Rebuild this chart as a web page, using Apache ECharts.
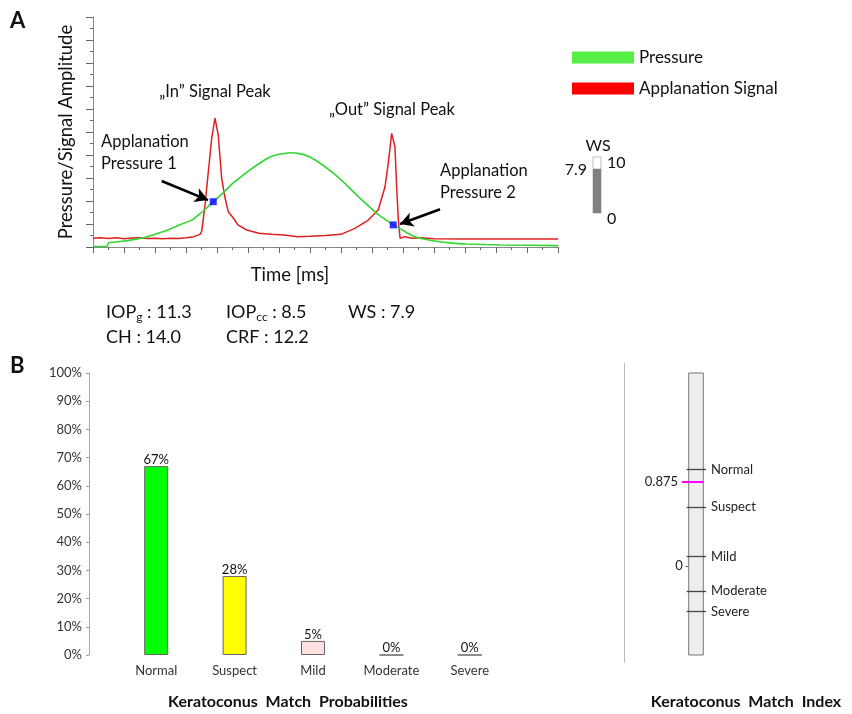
<!DOCTYPE html>
<html><head><meta charset="utf-8">
<script src="https://cdn.jsdelivr.net/npm/echarts@6/dist/echarts.min.js"></script>
<style>html,body{margin:0;padding:0;background:#fff}#c{width:852px;height:714px}</style>
</head><body><div id="c"></div>
<script>
// ---- Panel A data (time in arbitrary axis units 0..30, amplitude 0..10) ----
const pressureTime  = [0, 0.9, 1.0, 2.0, 2.7, 3.5, 4.2, 4.84, 5.6, 6.37, 7.0, 7.44, 7.76, 8.4, 9.03, 9.6, 10.13, 10.7, 11.2, 11.6, 12.0, 12.7, 13.4, 14.0, 14.7, 15.48, 16.2, 16.9, 17.5, 18.19, 18.8, 19.37, 19.8, 20.3, 20.88, 21.9, 23.0, 24.1, 26.3, 30];
const pressureValue = [0.02, 0.02, 0.18, 0.26, 0.33, 0.45, 0.6, 0.74, 0.97, 1.17, 1.5, 1.76, 1.97, 2.35, 2.78, 3.08, 3.35, 3.62, 3.84, 3.96, 4.03, 4.1, 4.05, 3.91, 3.62, 3.22, 2.8, 2.33, 1.95, 1.53, 1.22, 0.96, 0.8, 0.6, 0.42, 0.27, 0.18, 0.13, 0.09, 0.06];
const signalTime  = [0, 0.5, 1, 1.5, 2, 2.5, 3, 3.5, 4, 4.5, 5, 5.5, 6, 6.5, 6.9, 7.01, 7.23, 7.44, 7.66, 7.87, 8.08, 8.3, 8.52, 8.73, 9.05, 9.35, 9.92, 10.7, 11.5, 12.3, 13.2, 14.0, 15.0, 16.0, 16.9, 17.76, 18.4, 18.84, 19.05, 19.27, 19.48, 19.59, 19.7, 19.81, 20.13, 20.56, 21.2, 22, 24, 26, 28, 30];
const signalValue = [0.38, 0.4, 0.37, 0.4, 0.36, 0.39, 0.4, 0.37, 0.38, 0.36, 0.38, 0.37, 0.4, 0.45, 0.55, 0.67, 1.83, 3.27, 4.74, 5.6, 4.87, 3.0, 2.13, 1.53, 1.26, 0.96, 0.74, 0.6, 0.55, 0.52, 0.45, 0.47, 0.5, 0.55, 0.81, 1.17, 1.61, 2.62, 3.65, 4.94, 4.36, 2.62, 1.17, 0.38, 0.45, 0.38, 0.4, 0.36, 0.35, 0.35, 0.35, 0.35];
const applanationTime  = [7.76, 19.37];
const applanationValue = [1.97, 0.96];
const wsValue = 7.9;
const metricLabels = ['IOP{s|g} : 11.3', 'CH : 14.0', 'IOP{s|cc} : 8.5', 'CRF : 12.2', 'WS : 7.9'];

// ---- Panel B data ----
const categories = ['Normal', 'Suspect', 'Mild', 'Moderate', 'Severe'];
const probabilities = [67, 28, 5, 0, 0];
const barColors = ['#00ff00', '#ffff00', '#fde0e0', '#ffffff', '#ffffff'];
const indexNames = ['Normal', 'Suspect', 'Mild', 'Moderate', 'Severe'];
const indexLevels = [1.0, 0.61, 0.1, -0.256, -0.47];
const matchIndex = 0.875;

const F = 'Lato, "Noto Sans", sans-serif';
const zip = (a, b) => a.map((v, i) => [v, b[i]]);

const chart = echarts.init(document.getElementById('c'), null, {renderer: 'canvas'});
chart.setOption({
  animation: false,
  textStyle: {fontFamily: F},
  legend: {
    left: 567, top: 44, orient: 'vertical', icon: 'rect', itemWidth: 62, itemHeight: 12, itemGap: 14,
    textStyle: {fontSize: 17, color: '#111', fontFamily: F},
    data: [
      {name: 'Pressure', itemStyle: {color: '#55ee44'}},
      {name: 'Applanation Signal', itemStyle: {color: '#ff0000'}}
    ],
    selectedMode: false
  },
  grid: [
    {left: 93, top: 17, width: 465, height: 230},
    {left: 593, top: 157, width: 8, height: 56},
    {left: 117, top: 373, width: 392, height: 282},
    {left: 682, top: 373, width: 24, height: 282}
  ],
  xAxis: [
    {gridIndex: 0, type: 'value', min: 0, max: 30, interval: 2,
     axisLine: {lineStyle: {color: '#888'}}, axisTick: {length: 6, lineStyle: {color: '#666'}},
     minorTick: {show: true, splitNumber: 2, length: 3, lineStyle: {color: '#666'}},
     axisLabel: {show: false}, splitLine: {show: false}},
    {gridIndex: 1, type: 'category', data: [''], show: false},
    {gridIndex: 2, type: 'category', data: categories,
     axisLine: {show: false}, axisTick: {show: false},
     axisLabel: {fontSize: 13, color: '#333', margin: 9, fontFamily: F}},
    {gridIndex: 3, type: 'value', min: 0, max: 24, show: false}
  ],
  yAxis: [
    {gridIndex: 0, type: 'value', min: 0, max: 10, interval: 1,
     name: 'Pressure/Signal Amplitude', nameLocation: 'middle', nameGap: 17,
     nameTextStyle: {fontSize: 18.5, color: '#111', fontFamily: F},
     axisLine: {show: true, lineStyle: {color: '#888'}}, axisTick: {show: true, length: 7, lineStyle: {color: '#666'}},
     minorTick: {show: true, splitNumber: 2, length: 3, lineStyle: {color: '#666'}},
     axisLabel: {show: false}, splitLine: {show: false}},
    {gridIndex: 1, type: 'value', min: 0, max: 10, interval: 10, position: 'right',
     axisLine: {show: false}, axisTick: {show: false}, splitLine: {show: false},
     axisLabel: {fontSize: 16, color: '#111', margin: 6, fontFamily: F,
       formatter: '{a|{value}}', rich: {a: {fontSize: 16, padding: [12, 0, 0, 0], fontFamily: F, color: '#111'}}}},
    {gridIndex: 2, type: 'value', min: 0, max: 100, interval: 10, offset: 28,
     axisLine: {show: true, lineStyle: {color: '#aaa'}}, axisTick: {show: true, length: 3, lineStyle: {color: '#999'}},
     axisLabel: {formatter: '{value}%', fontSize: 13, color: '#333', margin: 7, fontFamily: F},
     splitLine: {show: false}},
    {gridIndex: 3, type: 'value', min: -0.92, max: 2.0, offset: -6.7,
     axisLine: {show: false},
     axisTick: {show: true, customValues: [0], length: 3, lineStyle: {color: '#555'}},
     axisLabel: {customValues: [0], fontSize: 13, color: '#222', margin: 6, fontFamily: F},
     splitLine: {show: false}}
  ],
  series: [
    {name: 'Pressure', type: 'line', xAxisIndex: 0, yAxisIndex: 0, data: zip(pressureTime, pressureValue),
     showSymbol: false, smooth: 0.2, lineStyle: {color: '#33d633', width: 1.6}, itemStyle: {color: '#33d633'}, z: 3},
    {name: 'Applanation Signal', type: 'line', xAxisIndex: 0, yAxisIndex: 0, data: zip(signalTime, signalValue),
     showSymbol: false, lineStyle: {color: '#dd2020', width: 1.5}, itemStyle: {color: '#dd2020'}, z: 2},
    {name: 'markers', type: 'scatter', xAxisIndex: 0, yAxisIndex: 0, data: zip(applanationTime, applanationValue),
     symbol: 'rect', symbolSize: 7, itemStyle: {color: '#0000ff'}, z: 5, silent: true,
     markLine: {silent: true, symbol: ['none', 'arrow'], symbolSize: [11, 13], label: {show: false},
       lineStyle: {color: '#000', width: 2.5, type: 'solid'},
       data: [
         [{coord: [4.43, 2.87]}, {coord: [7.42, 2.04]}],
         [{coord: [22.39, 1.64]}, {coord: [19.81, 1.0]}]
       ]}},
    {name: 'WS', type: 'bar', xAxisIndex: 1, yAxisIndex: 1, data: [wsValue], barWidth: 8,
     itemStyle: {color: '#808080'}, showBackground: true,
     backgroundStyle: {color: '#fff', borderColor: '#bbb', borderWidth: 1},
     label: {show: true, position: [-6, 1], align: 'right', verticalAlign: 'middle', fontSize: 16, color: '#111', fontFamily: F}},
    {name: 'prob', type: 'bar', xAxisIndex: 2, yAxisIndex: 2, barWidth: 24,
     data: probabilities.map((v, i) => ({value: v, itemStyle: {color: barColors[i]}})),
     itemStyle: {borderColor: '#666', borderWidth: 1},
     label: {show: true, position: 'top', formatter: '{c}%', fontSize: 13, color: '#111', distance: 0, fontFamily: F}},
    {name: 'index', type: 'scatter', xAxisIndex: 3, yAxisIndex: 3, data: [], silent: true,
     markArea: {silent: true, itemStyle: {color: '#eeeeee', borderColor: '#777', borderWidth: 1},
       data: [[{coord: [6.7, -0.92]}, {coord: [21.3, 2.0]}]]},
     markLine: {silent: true, symbol: 'none',
       lineStyle: {type: 'solid'},
       data: indexNames.map((n, i) => [
         {coord: [4.7, indexLevels[i]], lineStyle: {color: '#444', width: 1.3, type: 'solid'},
          label: {show: true, position: 'end', formatter: n, fontSize: 13, color: '#222', distance: 5, fontFamily: F}},
         {coord: [24, indexLevels[i]]}
       ]).concat([[
         {coord: [0, matchIndex], lineStyle: {color: '#ff00ff', width: 2, type: 'solid'},
          label: {show: true, position: 'start', formatter: String(matchIndex), fontSize: 13, color: '#222', distance: 4, fontFamily: F}},
         {coord: [21.3, matchIndex]}
       ]])}}
  ],
  graphic: [
    {type: 'text', left: 10, top: 10, style: {text: 'A', font: 'bold 22px ' + F, fill: '#111'}},
    {type: 'text', left: 10, top: 355, style: {text: 'B', font: 'bold 22px ' + F, fill: '#111'}},
    {type: 'text', x: 215, y: 92, style: {text: '\u201EIn\u201D Signal Peak', font: '16.5px ' + F, fill: '#111', align: 'center', verticalAlign: 'middle'}},
    {type: 'text', x: 392, y: 110, style: {text: '\u201EOut\u201D Signal Peak', font: '16.5px ' + F, fill: '#111', align: 'center', verticalAlign: 'middle'}},
    {type: 'text', x: 101, y: 153, style: {text: 'Applanation\nPressure 1', font: '16.5px ' + F, lineHeight: 22, fill: '#111', verticalAlign: 'middle'}},
    {type: 'text', x: 440, y: 182, style: {text: 'Applanation\nPressure 2', font: '16.5px ' + F, lineHeight: 22, fill: '#111', verticalAlign: 'middle'}},
    {type: 'text', x: 598, y: 146, style: {text: 'WS', font: '16px ' + F, fill: '#111', align: 'center', verticalAlign: 'middle'}},
    {type: 'text', x: 290, y: 275, style: {text: 'Time [ms]', font: '18.5px ' + F, fill: '#111', align: 'center', verticalAlign: 'middle'}},
    {type: 'text', x: 106, y: 312, style: {text: metricLabels[0], font: '18px ' + F, fill: '#111', verticalAlign: 'middle', rich: {s: {fontSize: 12, padding: [10, 0, 0, 0], fontFamily: F}}}},
    {type: 'text', x: 106, y: 337, style: {text: metricLabels[1], font: '18px ' + F, fill: '#111', verticalAlign: 'middle'}},
    {type: 'text', x: 226, y: 312, style: {text: metricLabels[2], font: '18px ' + F, fill: '#111', verticalAlign: 'middle', rich: {s: {fontSize: 12, padding: [10, 0, 0, 0], fontFamily: F}}}},
    {type: 'text', x: 226, y: 337, style: {text: metricLabels[3], font: '18px ' + F, fill: '#111', verticalAlign: 'middle'}},
    {type: 'text', x: 348, y: 312, style: {text: metricLabels[4], font: '18px ' + F, fill: '#111', verticalAlign: 'middle'}},
    {type: 'line', shape: {x1: 624.5, y1: 363, x2: 624.5, y2: 663}, style: {stroke: '#bbb', lineWidth: 1}},
    {type: 'text', x: 288, y: 702, style: {text: 'Keratoconus  Match  Probabilities', font: 'bold 16px ' + F, fill: '#111', align: 'center', verticalAlign: 'middle'}},
    {type: 'text', x: 746, y: 702, style: {text: 'Keratoconus  Match  Index', font: 'bold 16px ' + F, fill: '#111', align: 'center', verticalAlign: 'middle'}}
  ]
});
</script></body></html>
